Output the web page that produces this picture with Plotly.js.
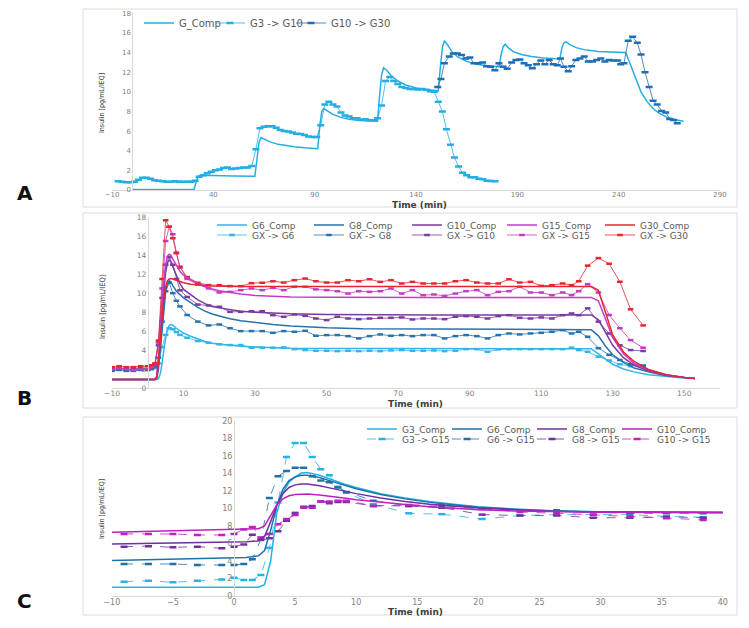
<!DOCTYPE html>
<html><head><meta charset="utf-8">
<script src="https://cdn.plot.ly/plotly-3.0.1.min.js"></script>
<style>html,body{margin:0;padding:0;background:#fff}#chart{width:749px;height:628px}</style>
</head><body><div id="chart"></div>
<script>
// ---------------- Panel A data ----------------
const A_compT = [0,30.5,31.5,32.5,34,40,50, 60.5,61.5,62.5,63.5,65,68,72,76,80,85, 91.5,92.5,93.5,94.5,96,99,103,107,112,117, 121,122,123,124,125.5,128,131,135,140,145, 151,152,153,154,155.5,158,161,165,170,175, 181,182,183,184,185.5,188,192,197,203, 211,212,213,214,216,219,224,230,236, 243.5,245,247,249,251,254,257,260,264,268,272];
const A_compV = [0.05,0.05,0.8,1.4,1.5,1.45,1.42, 1.4,3.2,4.8,5.35,5.2,4.9,4.65,4.5,4.4,4.3, 4.2,6.5,8.0,8.3,8.1,7.7,7.4,7.2,7.08,7.02, 7.0,9.5,11.7,12.45,12.2,11.6,11.1,10.7,10.4,10.25, 10.1,12.5,14.5,15.2,14.8,14.0,13.5,13.1,12.8,12.65, 12.55,13.8,14.6,14.85,14.5,14.1,13.8,13.6,13.45, 13.35,14.5,15.0,15.1,14.8,14.5,14.25,14.1,14.05, 14.0,13.2,12.2,11.0,10.0,9.0,8.3,7.8,7.4,7.15,7.0];
const A_g3g10T = [-7,-5,-3,-1,1,3,5,7,9,11,13,15,17,19,21,23,25,27,29,31,33,35,37,39,41,43,45,47,49,51,53,55,57,59,61,63,65,67,69,71,73,75,77,79,81,83,85,87,89,91,93,95,97,99,101,103,105,107,109,111,113,115,117,119,121,123,125,127,129,131,133,135,137,139,141,143,145,147,149,151,153,155,157,159,161,163,165,167,169,171,173,175,177,179];
const A_g3g10V = [0.9,0.85,0.8,0.8,0.85,1.05,1.25,1.25,1.15,1.0,0.95,0.9,0.85,0.85,0.9,0.85,0.85,0.85,0.85,
  0.95,1.35,1.5,1.7,1.85,2.0,2.1,2.25,2.3,2.15,2.2,2.25,2.3,2.3,2.45,
  4.15,6.3,6.45,6.5,6.5,6.35,6.1,6.0,5.95,5.85,5.72,5.7,5.6,5.45,5.4,
  5.4,6.6,8.7,9.0,8.7,8.5,7.9,7.6,7.5,7.3,7.3,7.15,7.2,7.1,7.1,
  7.3,8.6,11.1,11.5,11.1,10.8,10.5,10.4,10.3,10.3,10.25,10.3,10.2,10.05,10.0,
  9.0,8.0,6.2,4.6,3.3,2.4,1.75,1.5,1.3,1.3,1.15,1.1,0.95,0.92,0.9];
const A_g10g30T = [150.7,152.3,154,156.4,158.4,160.4,162.5,164.6,166.6,168.6,170.7,172.9,174.8,176.8,178.9,180.9,183,185,187.2,189.3,191.3,193.3,195.4,197.4,199.5,201.6,203.6,205.7,207.7,209.7,211.3,213,215.1,216.8,218.9,220.9,223,225,227.1,229.1,231.2,233.2,235.3,237.3,239.5,241,242.6,244.7,246.9,249.2,251,253,255,257,259,261.2,263.2,265.2,267.1,268.9];
const A_g10g30V = [10.5,11.3,12.9,13.6,13.9,13.9,13.75,13.4,13.5,12.9,12.9,13.0,12.6,12.55,12.2,
  12.9,12.55,12.35,13.0,13.25,13.3,12.9,12.7,12.4,12.8,13.2,12.8,13.25,12.8,12.7,
  13.4,12.55,12.1,12.6,13.25,13.4,13.6,13.1,13.1,13.25,13.4,13.1,13.25,13.2,13.2,
  12.8,12.9,15.2,15.6,15.0,13.8,12.0,10.5,9.1,8.7,8.06,7.9,7.24,7.14,6.8];
const A_names = ['G_Comp','G3 -> G10','G10 -> G30'];
const A_xticks = [-10,40,90,140,190,240,290];
const A_yticks = [0,2,4,6,8,10,12,14,16,18];

// ---------------- Panel B data ----------------
const B_markT = [-10,-8,-6,-4,-2,0,1,2,3,4,5,6,7,8,9,11,14,17,20,23,26,29,32,35,38,41,44,47,50,53,56,59,62,65,68,71,74,77,80,83,86,89,92,95,98,101,104,107,110,113,116,118.5,120.5,123,126,129,132,135,138.5];
const B_gx6 = [1.9,2.0,1.9,1.9,2.0,1.9,2.0, 2.1,2.6,4.3,5.6,6.3,6.2,5.9,5.6, 5.3,4.95,4.77,
  4.6,4.53,4.53,4.25,4.25,4.25,4.28,4.1,4.0,3.93,3.93,3.89,3.93,3.89,3.93,3.89,3.96,4.0,3.93,3.93,3.96,
  3.89,3.93,4.1,4.1,3.82,4.07,4.1,4.1,4.1,4.1,4.1,4.1, 4.25,4.0,3.82,3.3,2.9,2.5,2.3,2.4];
const B_gx8 = [1.8,1.9,1.8,1.8,1.9,1.9,2.0, 2.2,3.2,7.0,10.2,11.1,10.0,9.2,8.6, 7.7,7.0,6.6,
  6.7,6.3,6.0,6.0,6.0,5.82,6.0,5.93,6.03,5.51,5.58,5.58,5.47,5.23,5.47,5.65,5.51,5.58,5.47,5.58,5.58,
  5.23,5.47,5.58,5.47,5.23,5.58,5.75,5.65,5.75,5.82,5.93,6.1, 5.75,5.93,5.4,4.2,3.5,2.95,2.5,2.35];
const B_gx10 = [2.1,2.1,2.0,2.0,2.1,2.0,2.1, 2.4,4.5,9.5,13.0,13.8,13.0,11.5,10.3, 9.6,8.8,8.7,
  8.56,8.03,8.03,8.1,8.1,7.68,7.51,7.75,7.61,7.33,7.16,7.51,7.33,7.26,7.33,7.4,7.4,7.44,7.23,7.33,7.33,
  7.26,7.51,7.58,7.51,7.33,7.58,7.68,7.4,7.33,7.44,7.33,7.68, 7.86,7.68,8.4,7.0,5.75,4.5,4.0,3.9];
const B_gx15 = [2.0,2.1,2.0,1.9,2.0,2.0,2.2, 2.5,4.8,10.5,15.5,17.0,16.2,14.3,12.8, 11.5,10.9,10.5,
  10.07,10.14,10.32,10.49,10.32,10.55,10.32,10.67,10.67,10.4,10.32,10.21,9.96,10.21,10.14,10.21,10.49,9.96,10.32,9.79,9.86,
  9.72,9.96,10.21,10.32,9.79,10.14,10.21,10.67,10.07,10.07,9.79,10.07, 9.8,10.21,10.95,10.07,7.7,6.3,5.05,4.25];
const B_gx30 = [2.2,2.3,2.2,2.2,2.3,2.3,2.4, 2.6,5.0,11.5,17.7,17.0,15.8,14.2,12.7, 11.7,11.1,10.85,
  10.84,10.74,10.74,11.05,11.1,11.26,11.12,11.37,11.54,11.26,11.12,11.12,11.37,11.26,11.47,11.19,11.37,11.02,11.19,11.02,11.02,
  11.02,11.26,11.37,11.12,11.02,11.02,11.47,11.12,11.19,10.77,10.84,11.02, 10.84,11.26,12.9,13.7,13.1,11.2,8.3,6.6];
const B_compT = [-10,2,2.5,3,3.5,4,4.5,5,5.5,6,6.5,7,8,9,10,12,14,16,18,20,23,26,30,35,40,50,60,80,100,120,124,126,128,130,133,136,140,145,150,153];
const B_c6 = [0.9,0.9,0.9,1.0,1.5,2.6,4.0,5.3,6.2,6.6, 6.7,6.6,6.3,6.05,5.8,5.45,5.15,4.9,4.72,4.62, 4.5,4.4,4.32,4.25,4.2,4.18,4.17,4.16,4.15,4.15, 4.15,3.6,3.0,2.5,2.0,1.7,1.4,1.2,1.05,1.0];
const B_c8 = [0.9,0.9,1.0,2.0,4.0,6.3,8.5,10.1,11.0,11.3, 11.2,10.8,10.2,9.8,9.5,9.0,8.5,8.1,7.8,7.6, 7.3,7.1,6.9,6.7,6.55,6.35,6.25,6.2,6.15,6.15, 6.15,5.5,4.4,3.5,2.7,2.1,1.7,1.3,1.1,1.0];
const B_c10 = [0.9,0.9,1.1,2.5,5.0,7.8,10.3,12.2,13.2,13.5, 13.3,12.8,11.8,11.0,10.4,9.8,9.3,8.9,8.6,8.45, 8.25,8.1,7.98,7.88,7.82,7.75,7.72,7.7,7.7,7.7, 7.7,7.2,5.8,4.5,3.2,2.4,1.8,1.35,1.1,1.0];
const B_c15 = [0.9,0.9,1.2,2.8,5.5,8.5,11.2,13.0,13.9,14.1, 14.0,13.6,12.9,12.3,11.9,11.4,11.0,10.7,10.45,10.25, 10.05,9.9,9.75,9.65,9.6,9.57,9.55,9.55,9.55,9.55, 9.55,9.2,7.3,5.3,3.6,2.6,1.9,1.4,1.1,1.0];
const B_c30 = [0.9,0.9,1.2,2.8,5.2,7.6,9.5,10.7,11.3,11.5, 11.55,11.5,11.35,11.2,11.1,10.95,10.85,10.8,10.75,10.72, 10.7,10.7,10.7,10.7,10.7,10.7,10.7,10.7,10.7,10.7, 10.7,10.3,8.0,5.6,3.8,2.8,1.95,1.4,1.1,1.0];
const B_compNames = ['G6_Comp','G8_Comp','G10_Comp','G15_Comp','G30_Comp'];
const B_markNames = ['GX -> G6','GX -> G8','GX -> G10','GX -> G15','GX -> G30'];
const B_xticks = [-10,10,30,50,70,90,110,130,150];
const B_yticks = [0,2,4,6,8,10,12,14,16,18];

// ---------------- Panel C data ----------------
const C_markT = [-9,-7,-5,-3,-1,0,0.8,1.5,2.2,2.9,3.6,4.3,5.0,5.7,6.4,7.1,7.8,8.5,9.2,11.4,14.3,17,20.3,23.4,26.4,29.4,32.4,35.4,38.4];
const C_g3 = [1.64,1.75,1.56,1.75,1.9,2.1, 1.83,1.83,2.4,5.5,10.7,15.9,17.5,17.5,15.9,14.5,13.8,12.5,11.8, 10.5,9.45,9.35,8.8,9.2,9.3,9.3,9.3,9.1,9.0];
const C_g6 = [3.66,3.66,3.66,3.55,3.55,3.55, 3.66,4.2,6.5,11.2,13.7,14.3,14.67,14.67,13.7,13.2,13.0,12.4,11.9, 10.9,10.3,10.2,10.0,9.8,9.8,9.56,9.45,9.45,9.45];
const C_g8 = [5.64,5.7,5.56,5.64,5.45,5.64, 5.9,7.0,6.4,6.6,7.4,8.6,9.5,10.2,10.3,10.8,10.6,10.75,10.75, 10.3,10.3,10.1,9.3,9.2,9.2,8.95,8.95,9.05,8.95];
const C_g10 = [7.09,7.09,7.09,6.97,6.97,7.09, 7.6,7.9,6.7,7.1,8.2,8.8,9.26,10.1,10.1,10.8,10.8,10.9,10.9, 10.3,10.4,10.4,9.95,9.6,9.45,9.3,9.1,8.9,8.7];
const C_compT = [-10,-5,0,1,2,2.5,3,3.5,4,4.5,5,5.5,6,7,8,9,10,12,14,16,18,20,23,26,30,35,40];
const C_c3 = [1.0,1.0,1.05,1.05,1.0,1.3,4.0,9.5,11.8,13.0, 13.6,14.05,14.1,13.8,13.3,12.8,12.4,11.7,11.2,10.8, 10.5,10.2,9.95,9.75,9.62,9.57,9.55];
const C_c6 = [4.05,4.2,4.35,4.4,4.6,5.2,7.5,10.3,12.2,13.2, 13.6,13.8,13.8,13.55,13.1,12.65,12.25,11.6,11.1,10.7, 10.4,10.15,9.9,9.72,9.6,9.56,9.55];
const C_c8 = [5.94,6.05,6.15,6.2,6.3,6.8,8.5,10.4,11.7,12.4, 12.7,12.8,12.8,12.6,12.3,12.0,11.7,11.2,10.8,10.5, 10.25,10.05,9.85,9.7,9.6,9.56,9.55];
const C_c10 = [7.28,7.45,7.6,7.65,7.7,8.0,9.2,10.4,11.1,11.45, 11.6,11.65,11.65,11.55,11.4,11.2,11.0,10.7,10.45,10.2, 10.0,9.85,9.72,9.63,9.57,9.55,9.55];
const C_compNames = ['G3_Comp','G6_Comp','G8_Comp','G10_Comp'];
const C_markNames = ['G3 -> G15','G6 -> G15','G8 -> G15','G10 -> G15'];
const C_xticks = [-10,-5,0,5,10,15,20,25,30,35,40];
const C_yticks = [0,2,4,6,8,10,12,14,16,18,20];

// ---------------- build ----------------
const W = 749, H = 628;
const px = p => p / W, py = p => 1 - p / H;
const legends = {};
let li = 0;
function legendAt(textX, yc, fs) {
  li++;
  const key = li === 1 ? 'legend' : 'legend' + li;
  legends[key] = {x: px(textX - 38), xanchor: 'left', y: py(yc), yanchor: 'middle',
    orientation: 'h', bgcolor: 'rgba(0,0,0,0)', borderwidth: 0, itemwidth: 30,
    font: {family: 'DejaVu Sans', size: fs, color: '#595959'}};
  return key;
}
function comp(x, y, name, color, ax, lg, w) {
  return {type: 'scatter', mode: 'lines', x: x, y: y, name: name, xaxis: 'x' + ax, yaxis: 'y' + ax,
    legend: lg, line: {color: color, width: w || 1.5}, hoverinfo: 'skip'};
}
function mark(x, y, name, color, ax, lg, dash, msize, mw) {
  return {type: 'scatter', mode: 'lines+markers', x: x, y: y, name: name, xaxis: 'x' + ax, yaxis: 'y' + ax,
    legend: lg, line: {color: color, width: 0.8, dash: dash || 'solid'},
    marker: {symbol: 'line-ew-open', size: msize, color: color, line: {color: color, width: mw}}, hoverinfo: 'skip'};
}
const traces = [];
// Panel A
const cA = ['#25aee3', '#25aee3', '#1f6fb8'];
traces.push(comp(A_compT, A_compV, A_names[0], cA[0], '', legendAt(177, 23, 10), 1.5));
traces.push(mark(A_g3g10T, A_g3g10V, A_names[1], cA[1], '', legendAt(248, 23, 10), 'solid', 5, 2.5));
traces.push(mark(A_g10g30T, A_g10g30V, A_names[2], cA[2], '', legendAt(329, 23, 10), 'solid', 5, 2.5));
// Panel B
const cB = ['#33b5e6', '#2a72ab', '#7a3a9e', '#c43cc4', '#e6262e'];
const bx = [250, 347, 445, 540, 638];
const bMarks = [B_gx6, B_gx8, B_gx10, B_gx15, B_gx30];
const bComps = [B_c6, B_c8, B_c10, B_c15, B_c30];
for (let i = 0; i < 5; i++) traces.push(mark(B_markT, bMarks[i], B_markNames[i], cB[i], '2', legendAt(bx[i], 235, 9), 'solid', 4, 2.5));
for (let i = 0; i < 5; i++) traces.push(comp(B_compT, bComps[i], B_compNames[i], cB[i], '2', legendAt(bx[i], 225, 9), 1.5));
// Panel C
const cC = ['#25b2e4', '#1f72a8', '#7030a0', '#c21fc2'];
const cx = [400, 485, 570, 655];
const cMarks = [C_g3, C_g6, C_g8, C_g10];
const cComps = [C_c3, C_c6, C_c8, C_c10];
for (let i = 0; i < 4; i++) traces.push(mark(C_markT, cMarks[i], C_markNames[i], cC[i], '3', legendAt(cx[i], 439, 9), 'dash', 5, 2.5));
for (let i = 0; i < 4; i++) traces.push(comp(C_compT, cComps[i], C_compNames[i], cC[i], '3', legendAt(cx[i], 429, 9), 1.5));

function xax(dom, range, ticks, anchor, fs) {
  return {domain: dom, range: range, anchor: anchor, tickmode: 'array', tickvals: ticks,
    showline: true, linecolor: '#d9d9d9', linewidth: 1, ticks: '', ticklen: 0, ticklabelstandoff: -2,
    showgrid: false, zeroline: false,
    tickfont: {family: 'DejaVu Sans', size: fs, color: '#7f7f7f'}};
}
function yax(dom, range, ticks, pos, fs) {
  return {domain: dom, range: range, anchor: 'free', position: pos, tickmode: 'array', tickvals: ticks,
    showline: true, linecolor: '#d9d9d9', linewidth: 1, ticks: '', showgrid: false, zeroline: false,
    tickfont: {family: 'DejaVu Sans', size: fs, color: '#7f7f7f'}};
}
const frame = (x0, y0, x1, y1) => ({type: 'rect', xref: 'paper', yref: 'paper', x0: px(x0), x1: px(x1), y0: py(y1), y1: py(y0),
  line: {color: '#dcdcdc', width: 1}, fillcolor: 'rgba(0,0,0,0)', layer: 'below'});
const letter = (t, x, y) => ({text: '<b>' + t + '</b>', x: px(x), y: py(y), xref: 'paper', yref: 'paper', showarrow: false,
  xanchor: 'center', yanchor: 'middle', font: {family: 'DejaVu Sans', size: 20, color: '#111'}});
const tTitle = (x, y) => ({text: '<b>Time (min)</b>', x: px(x), y: py(y), xref: 'paper', yref: 'paper', showarrow: false,
  xanchor: 'center', yanchor: 'middle', font: {family: 'DejaVu Sans', size: 9, color: '#404040'}});
const yTitle = (x, y, fs) => ({text: 'Insulin [pg/mL/IEQ]', x: px(x), y: py(y), xref: 'paper', yref: 'paper', showarrow: false,
  textangle: -90, xanchor: 'center', yanchor: 'middle',
  font: {family: 'Liberation Sans Narrow, DejaVu Sans Condensed, sans-serif', size: fs, color: '#404040'}});

const layout = Object.assign({
  width: W, height: H, margin: {l: 0, r: 0, t: 0, b: 0}, paper_bgcolor: '#ffffff', plot_bgcolor: 'rgba(0,0,0,0)',
  showlegend: true,
  xaxis: xax([px(112), px(720)], [-10, 290], A_xticks, 'y', 7),
  yaxis: yax([py(190), py(13.3)], [0, 18], A_yticks, px(132.3), 7),
  xaxis2: xax([px(112), px(720)], [-10, 160], B_xticks, 'y2', 7.5),
  yaxis2: yax([py(388), py(217.3)], [0, 18], B_yticks, px(147.75), 7.5),
  xaxis3: xax([px(111.8), px(722.8)], [-10, 40], C_xticks, 'y3', 8),
  yaxis3: yax([py(596), py(421)], [0, 20], C_yticks, px(234), 8),
  shapes: [frame(83, 9, 737, 207), frame(83, 213, 737, 408), frame(83, 417, 737, 615)],
  annotations: [letter('A', 25, 193), letter('B', 24, 398), letter('C', 24, 601),
    tTitle(419, 205), tTitle(415, 404), tTitle(415, 611.5),
    yTitle(102, 103, 7), yTitle(102, 307, 7.5), yTitle(102, 509, 7)]
}, legends);

Plotly.newPlot('chart', traces, layout, {displayModeBar: false, staticPlot: true});
</script>
</body></html>
